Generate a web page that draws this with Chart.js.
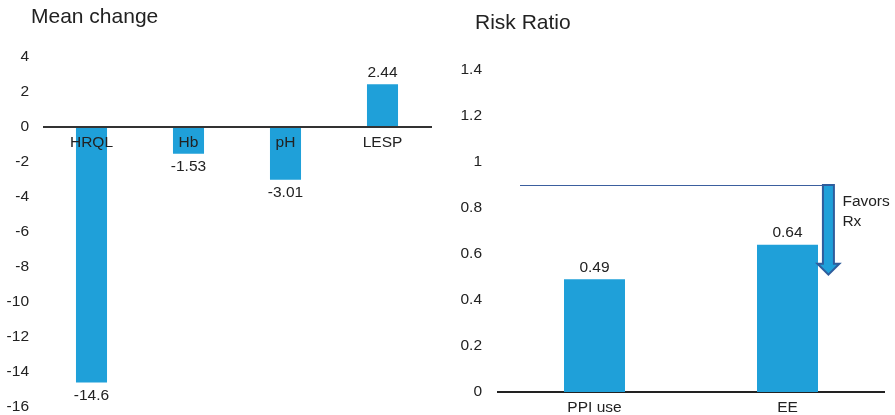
<!DOCTYPE html>
<html>
<head>
<meta charset="utf-8">
<script src="https://cdn.jsdelivr.net/npm/chart.js@4.4.1/dist/chart.umd.min.js"></script>
<style>
  html, body { margin: 0; padding: 0; background: #fff; }
  #wrap { position: relative; width: 895px; height: 415px; }
  #c1 { position: absolute; left: 0; top: 0; }
  #c2 { position: absolute; left: 440px; top: 0; }
</style>
</head>
<body>
<div id="wrap">
  <canvas id="c1" width="440" height="415"></canvas>
  <canvas id="c2" width="455" height="415"></canvas>
</div>
<script>
// ---- data ----
const meanCategories = ["HRQL", "Hb", "pH", "LESP"];
const meanValues = [-14.6, -1.53, -3.01, 2.44];
const meanValueLabels = ["-14.6", "-1.53", "-3.01", "2.44"];
const meanTicks = [4, 2, 0, -2, -4, -6, -8, -10, -12, -14, -16];

const rrCategories = ["PPI use", "EE"];
const rrValues = [0.49, 0.64];
const rrValueLabels = ["0.49", "0.64"];
const rrTicks = [1.4, 1.2, 1, 0.8, 0.6, 0.4, 0.2, 0];
const rrReference = 0.9;
const rrArrowTip = 0.51;
const favorsText = ["Favors", "Rx"];

const meanTitle = "Mean change";
const rrTitle = "Risk Ratio";

// ---- styles ----
const BAR = "#1fa0d9";
const TXT = "#222222";
const FONT = "'Liberation Sans', Arial, Helvetica, sans-serif";
Chart.defaults.font.family = FONT;
Chart.defaults.color = TXT;
Chart.defaults.animation = false;

function titlePlugin(text, x, y) {
  return {
    id: 'ttl',
    afterDraw(chart) {
      const ctx = chart.ctx;
      ctx.save();
      ctx.font = "21px " + FONT;
      ctx.fillStyle = TXT;
      ctx.textAlign = 'left';
      ctx.textBaseline = 'alphabetic';
      ctx.fillText(text, x, y);
      ctx.restore();
    }
  };
}

function valueLabelPlugin(labels) {
  return {
    id: 'vals',
    afterDatasetsDraw(chart) {
      const ctx = chart.ctx;
      const meta = chart.getDatasetMeta(0);
      const data = chart.data.datasets[0].data;
      ctx.save();
      ctx.font = "15.5px " + FONT;
      ctx.fillStyle = TXT;
      ctx.textAlign = 'center';
      meta.data.forEach((bar, i) => {
        if (data[i] >= 0) {
          ctx.textBaseline = 'bottom';
          ctx.fillText(labels[i], bar.x, bar.y - 4);
        } else {
          ctx.textBaseline = 'top';
          ctx.fillText(labels[i], bar.x, bar.y + 5);
        }
      });
      ctx.restore();
    }
  };
}

function noPad(s) {
  s.paddingTop = 0; s.paddingBottom = 0; s.paddingLeft = 0; s.paddingRight = 0;
}

// ---- left chart ----
const zeroAxisPlugin = {
  id: 'zeroAxis',
  afterDatasetsDraw(chart) {
    const ctx = chart.ctx;
    const y = chart.scales.y.getPixelForValue(0);
    const xs = chart.scales.x;
    ctx.save();
    ctx.strokeStyle = "#333333";
    ctx.lineWidth = 2;
    ctx.beginPath();
    ctx.moveTo(chart.chartArea.left, y);
    ctx.lineTo(chart.chartArea.right + 1, y);
    ctx.stroke();
    ctx.font = "15.5px " + FONT;
    ctx.fillStyle = TXT;
    ctx.textAlign = 'center';
    ctx.textBaseline = 'alphabetic';
    meanCategories.forEach((c, i) => {
      ctx.fillText(c, xs.getPixelForValue(i), y + 20);
    });
    ctx.restore();
  }
};

new Chart(document.getElementById('c1'), {
  type: 'bar',
  data: {
    labels: meanCategories,
    datasets: [{
      data: meanValues,
      backgroundColor: BAR,
      borderWidth: 0,
      categoryPercentage: 1,
      barPercentage: 0.32
    }]
  },
  options: {
    responsive: false,
    layout: { padding: { top: 57, bottom: 8, left: 0, right: 9 } },
    plugins: { legend: { display: false }, tooltip: { enabled: false } },
    scales: {
      x: { display: false },
      y: {
        min: -16, max: 4,
        afterBuildTicks(s) { s.ticks = meanTicks.map(v => ({ value: v })); },
        afterFit(s) { s.width = 43; noPad(s); },
        grid: { display: false, drawTicks: false },
        border: { display: false },
        ticks: {
          padding: 14,
          font: { size: 15.5 },
          color: TXT,
          callback: (v) => String(v)
        }
      }
    }
  },
  plugins: [zeroAxisPlugin, valueLabelPlugin(meanValueLabels), titlePlugin(meanTitle, 31, 23)]
});

// ---- right chart ----
const refPlugin = {
  id: 'ref',
  afterDatasetsDraw(chart) {
    const ctx = chart.ctx;
    const xs = chart.scales.x, ys = chart.scales.y;
    const catW = xs.getPixelForValue(1) - xs.getPixelForValue(0);
    const yRef = ys.getPixelForValue(rrReference);
    const yTip = ys.getPixelForValue(rrArrowTip);
    const cx = xs.getPixelForValue(1) + 0.212 * catW;
    const shaftHalf = 5.5, headHalf = 11, headLen = 11;
    ctx.save();
    ctx.strokeStyle = "#3b5f9e";
    ctx.lineWidth = 1;
    ctx.beginPath();
    ctx.moveTo(chart.chartArea.left + 22, yRef + 0.5);
    ctx.lineTo(cx + shaftHalf, yRef + 0.5);
    ctx.stroke();
    ctx.beginPath();
    ctx.moveTo(cx - shaftHalf, yRef);
    ctx.lineTo(cx + shaftHalf, yRef);
    ctx.lineTo(cx + shaftHalf, yTip - headLen);
    ctx.lineTo(cx + headHalf, yTip - headLen);
    ctx.lineTo(cx, yTip);
    ctx.lineTo(cx - headHalf, yTip - headLen);
    ctx.lineTo(cx - shaftHalf, yTip - headLen);
    ctx.closePath();
    ctx.fillStyle = BAR;
    ctx.fill();
    ctx.strokeStyle = "#2f5d9c";
    ctx.lineWidth = 2;
    ctx.lineJoin = 'miter';
    ctx.stroke();
    ctx.font = "15.5px " + FONT;
    ctx.fillStyle = TXT;
    ctx.textAlign = 'left';
    ctx.textBaseline = 'alphabetic';
    ctx.fillText(favorsText[0], cx + 14, yRef + 21);
    ctx.fillText(favorsText[1], cx + 14, yRef + 41);
    ctx.restore();
  }
};

new Chart(document.getElementById('c2'), {
  type: 'bar',
  data: {
    labels: rrCategories,
    datasets: [{
      data: rrValues,
      backgroundColor: BAR,
      borderWidth: 0,
      categoryPercentage: 1,
      barPercentage: 0.316
    }]
  },
  options: {
    responsive: false,
    layout: { padding: { top: 70, bottom: 0, left: 0, right: 11 } },
    plugins: { legend: { display: false }, tooltip: { enabled: false } },
    scales: {
      x: {
        grid: { display: false, drawTicks: false },
        border: { display: true, color: "#222222", width: 2 },
        afterFit(s) { s.height = 23; noPad(s); },
        ticks: { padding: 6, font: { size: 15.5 }, color: TXT, maxRotation: 0 }
      },
      y: {
        min: 0, max: 1.4,
        afterBuildTicks(s) { s.ticks = rrTicks.map(v => ({ value: v })); },
        afterFit(s) { s.width = 58; noPad(s); },
        grid: { display: false, drawTicks: false },
        border: { display: false },
        ticks: {
          padding: 16,
          font: { size: 15.5 },
          color: TXT,
          callback: (v) => String(Math.round(v * 10) / 10)
        }
      }
    }
  },
  plugins: [refPlugin, valueLabelPlugin(rrValueLabels), titlePlugin(rrTitle, 35, 29)]
});
</script>
</body>
</html>
